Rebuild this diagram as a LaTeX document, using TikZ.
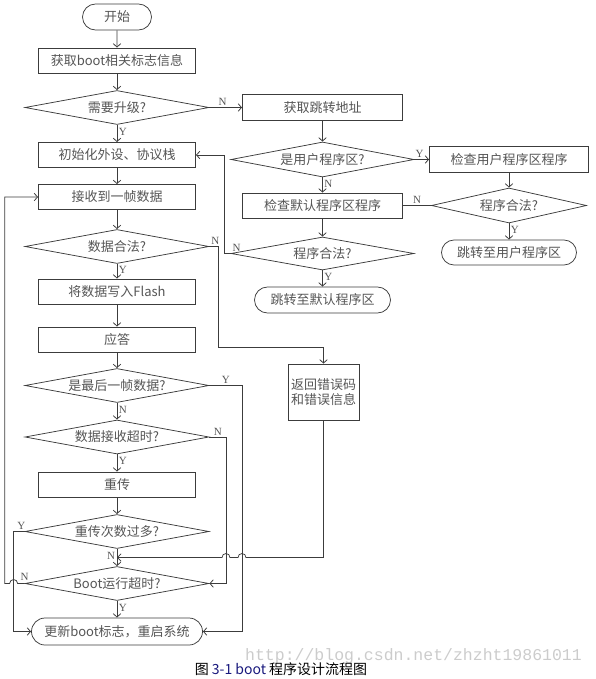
\documentclass[tikz,border=0pt]{standalone}
\usepackage{fontspec}
\setmainfont{Noto Sans CJK SC}
\newfontfamily\ynfont{Liberation Serif}
\newfontfamily\markfont{Liberation Mono}
\usepackage{tikz}
\usetikzlibrary{shapes.geometric}
\usetikzlibrary{shapes.misc}
\usetikzlibrary{arrows.meta}

\definecolor{linegray}{RGB}{60,60,60}
\definecolor{textgray}{RGB}{85,85,85}
\definecolor{capblue}{RGB}{25,25,125}

\tikzset{
  box/.style={shape=rectangle, draw=linegray, minimum width=157pt, minimum height=25pt, inner sep=1pt},
  dec/.style={shape=diamond, draw=linegray, minimum width=184pt, minimum height=34pt, aspect=5.4, inner sep=0pt},
  term/.style={shape=rounded rectangle, draw=linegray, minimum height=26pt, inner sep=1pt},
  yn/.style={font=\ynfont\fontsize{11}{12}\selectfont, text=textgray, inner sep=1.5pt}
}

\begin{document}
\begin{tikzpicture}[x=1pt, y=-1pt, line width=0.75pt, draw=linegray,
    font=\fontsize{13}{15}\selectfont, text=textgray,
    >={Straight Barb[length=3.5pt,width=7.5pt]}]
      \useasboundingbox (0,0) rectangle (595,679);
      % main column
      \node (start) [term, minimum width=71pt] at (117,17) {开始};
      \node (getflag) [box] at (117,60.5) {获取boot相关标志信息};
      \node (upgrade) [dec] at (117,107.5) {需要升级?};
      \node (init) [box] at (117,155) {初始化外设、协议栈};
      \node (recv) [box] at (117,197) {接收到一帧数据};
      \node (valid) [dec] at (117,246.5) {数据合法?};
      \node (write) [box] at (117,291.5) {将数据写入Flash};
      \node (ack) [box] at (117,339.5) {应答};
      \node (last) [dec] at (117,385.5) {是最后一帧数据?};
      \node (rxto) [dec] at (117,437) {数据接收超时?};
      \node (resend) [box] at (117,484.5) {重传};
      \node (toomany) [dec] at (117,531.5) {重传次数过多?};
      \node (bootto) [dec] at (117,583.5) {Boot运行超时?};
      \node (reboot) [term, minimum width=173pt, minimum height=27pt] at (117,631.5) {更新boot标志，重启系统};
      \coordinate (merge) at (117,557.5);
      % jump branch
      \node (jump) [box, minimum width=160pt, minimum height=26pt] at (322.5,107.5) {获取跳转地址};
      \node (isuser) [dec, minimum width=183pt, minimum height=35pt] at (322.5,159.5) {是用户程序区?};
      \node (chkdef) [box, minimum width=160pt] at (322.5,205.5) {检查默认程序区程序};
      \node (defok) [dec, minimum width=183pt, minimum height=33pt] at (322.5,253.5) {程序合法?};
      \node (gotodef) [term, minimum width=138pt] at (322.5,300) {跳转至默认程序区};
      \node (chkusr) [box, minimum width=159pt, minimum height=26pt] at (509,159.5) {检查用户程序区程序};
      \node (usrok) [dec, minimum width=155pt, minimum height=35pt] at (509,205.5) {程序合法?};
      \node (gotousr) [term, minimum width=137pt, minimum height=25pt] at (509,252.5) {跳转至用户程序区};
      \node (err) [box, minimum width=71pt, minimum height=56pt, align=center] at (323.5,392) {返回错误码\\和错误信息};

      \draw [->] (start) -- (getflag);
      \draw [->] (getflag) -- (upgrade);
      \draw [->] (upgrade.east) -- node [yn, above, pos=0.4] {N} (jump.west);
      \draw [->] (upgrade.south) -- node [yn, right, pos=0.4] {Y} (init.north);
      \draw [->] (init) -- (recv);
      \draw [->] (recv) -- (valid);
      \draw [->] (valid.south) -- node [yn, right, pos=0.4] {Y} (write.north);
      \draw [->] (write) -- (ack);
      \draw [->] (ack) -- (last);
      \draw [->] (last.south) -- node [yn, right, pos=0.4] {N} (rxto.north);
      \draw [->] (rxto.south) -- node [yn, right, pos=0.4] {Y} (resend.north);
      \draw [->] (resend) -- (toomany);
      \draw [->] (toomany.south) -- node [yn, left, pos=0.4] {N} (bootto.north);
      \draw [->] (bootto.south) -- node [yn, right, pos=0.4] {Y} (reboot.north);

      \draw [->] (jump) -- (isuser);
      \draw [->] (isuser.east) -- node [yn, above, pos=0.35] {Y} (chkusr.west);
      \draw [->] (isuser.south) -- node [yn, right, pos=0.4] {N} (chkdef.north);
      \draw [->] (chkdef) -- (defok);
      \draw [->] (defok.south) -- node [yn, right, pos=0.4] {Y} (gotodef.north);
      \draw [->] (chkusr) -- (usrok);
      \draw [->] (usrok.south) -- node [yn, right, pos=0.4] {Y} (gotousr.north);
      \draw (chkdef.east) -- node [yn, above] {N} (usrok.west);

      % loops and side branches
      \draw [->] (defok.west) node [yn, above right] {N} -- ++(-6,0) |- (init.east);
      \draw [->] (valid.east) node [yn, above right] {N} -- ++(9,0) -- ++(0,100.5) -| (err.north);
      \draw [->] (last.east) -- node [yn, above] {Y} ++(33,0) |- (reboot.east);
      \draw [->] (rxto.east) -- node [yn, above] {N} ++(17,0) |- (bootto.east);
      \draw [->] (err.south) |- (246,557.5) arc (0:-180:4) -- (230,557.5) arc (0:-180:4) -- (merge);
      \draw [->] (toomany.west) -- node [yn, above, pos=0.3] {Y} ++(-11,0) |- (reboot.west);
      \draw [->] (bootto.west) node [yn, above, yshift=1pt] {N} -- ++(-7,0) arc (0:-180:4) -- ++(-5,0) |- (recv.west);

      % caption
      \node (mark) [text=black!20, font=\markfont\fontsize{16.5}{18}\selectfont] at (413.5,656) {http://blog.csdn.net/zhzht19861011};
      \node (caption) [text=black, font=\fontsize{14}{16}\selectfont] at (281,669) {图 \textcolor{capblue}{3-1 boot} 程序设计流程图};
\end{tikzpicture}
\end{document}
